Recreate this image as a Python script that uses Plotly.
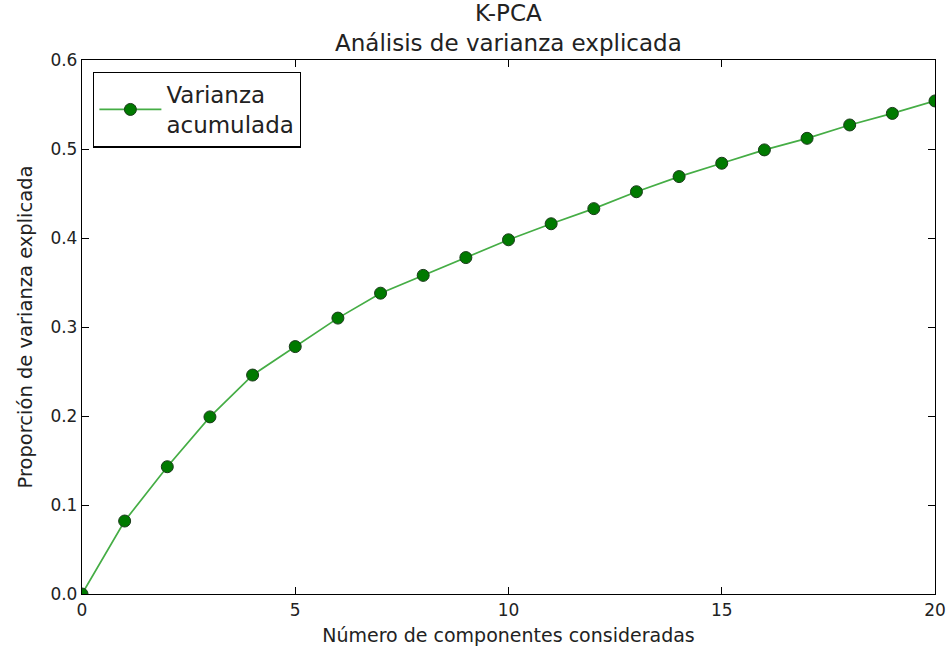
import plotly.graph_objects as go

# Cumulative explained variance per number of K-PCA components
componentes = list(range(0, 21))
varianza_acumulada = [0.0, 0.082, 0.143, 0.199, 0.246, 0.278, 0.310, 0.338, 0.358, 0.378,
                      0.398, 0.416, 0.433, 0.452, 0.469, 0.484, 0.499, 0.512, 0.527, 0.540, 0.554]
x_ticks = [0, 5, 10, 15, 20]
y_ticks = [0.0, 0.1, 0.2, 0.3, 0.4, 0.5, 0.6]

font = "DejaVu Sans"

fig = go.Figure()
fig.add_trace(go.Scatter(
    x=componentes, y=varianza_acumulada,
    mode="lines+markers",
    name="Varianza<br>acumulada",
    line=dict(color="#45ad45", width=1.7),
    marker=dict(color="#007a00", size=12, line=dict(color="#1a3a1a", width=1)),
    cliponaxis=True,
))

axis_common = dict(
    showgrid=False, zeroline=False, showline=True, linecolor="black", linewidth=1.3,
    mirror="ticks", ticks="inside", ticklen=7, tickcolor="black", tickwidth=1,
    tickfont=dict(family=font, size=17, color="#222"), automargin=False,
)

fig.update_layout(
    width=946, height=655,
    margin=dict(l=82, r=11, t=60, b=61),
    paper_bgcolor="white", plot_bgcolor="white",
    font=dict(family=font, color="#222"),
    xaxis=dict(range=[0, 20], tickvals=x_ticks, ticktext=[str(v) for v in x_ticks],
               title=dict(text="Número de componentes consideradas", font=dict(size=19), standoff=10),
               **axis_common),
    yaxis=dict(range=[0, 0.6], tickvals=y_ticks, ticktext=[f"{v:.1f}" for v in y_ticks],
               title=dict(text="Proporción de varianza explicada", font=dict(size=19.5), standoff=12),
               **axis_common),
    legend=dict(x=0.013, y=0.978, xanchor="left", yanchor="top",
                bordercolor="black", borderwidth=1.3, bgcolor="white",
                font=dict(family=font, size=23, color="#222"),
                itemwidth=62, tracegroupgap=0),
    showlegend=True,
    annotations=[
        dict(text="K-PCA<br>Análisis de varianza explicada", xref="paper", yref="paper",
             x=0.5, y=1, yanchor="bottom", xanchor="center", showarrow=False, yshift=2,
             font=dict(family=font, size=23, color="#222")),
    ],
)

fig.write_html("out.html")
